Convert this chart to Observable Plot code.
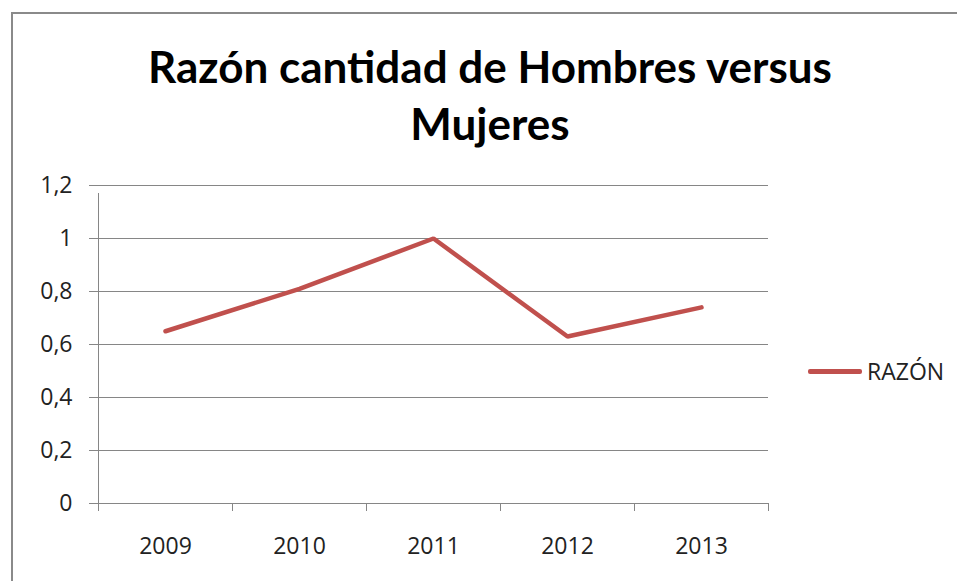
<!DOCTYPE html>
<html>
<head>
<meta charset="utf-8">
<script src="https://cdn.jsdelivr.net/npm/d3@7"></script>
<script src="https://cdn.jsdelivr.net/npm/@observablehq/plot@0.6"></script>
<style>
  html, body { margin: 0; padding: 0; background: #fff; }
  #wrap { position: relative; width: 957px; height: 581px; overflow: hidden; background: #fff; font-family: "Open Sans", Lato, sans-serif; }
  #frame { position: absolute; left: 11px; top: 12px; width: 1000px; height: 700px; border-left: 2px solid #8a8a8a; border-top: 2px solid #8a8a8a; }
  #title { position: absolute; left: 0; top: 38px; width: 980px; text-align: center; font-family: Lato, sans-serif; font-weight: bold; font-size: 44px; line-height: 57px; color: #000; }
  #chart { position: absolute; left: 0; top: 160px; }
  #legend { position: absolute; left: 808px; top: 355px; display: flex; align-items: center; font-size: 23px; color: #222; }
  #legend .sw { width: 54px; height: 5px; background: #C0504D; border-radius: 2px; margin-right: 5px; }
</style>
</head>
<body>
<div id="wrap">
  <div id="frame"></div>
  <div id="title">Razón cantidad de Hombres versus<br>Mujeres</div>
  <div id="chart"></div>
  <div id="legend"><div class="sw"></div><span>RAZÓN</span></div>
</div>
<script>
const years = ["2009", "2010", "2011", "2012", "2013"];
const razon = [0.65, 0.81, 1.0, 0.63, 0.74];
const yTicks = [0, 0.2, 0.4, 0.6, 0.8, 1, 1.2];
const seriesName = "RAZÓN";

const data = years.map((y, i) => ({i, year: y, value: razon[i]}));
const boundaries = d3.range(years.length + 1).map(k => k - 0.5);
const fmt = d => (+d.toFixed(1)).toString().replace(".", ",");

const plot = Plot.plot({
  width: 957,
  height: 421,
  marginTop: 25,
  marginBottom: 78,
  marginLeft: 98,
  marginRight: 189,
  style: {fontFamily: "'Open Sans', Lato, sans-serif", fontSize: "23px", color: "#222", background: "transparent", overflow: "visible"},
  x: {type: "linear", domain: [-0.5, years.length - 0.5], axis: null},
  y: {domain: [0, 1.2], axis: null},
  marks: [
    Plot.gridY(yTicks, {stroke: "#868686", strokeOpacity: 1, strokeWidth: 1}),
    Plot.axisY(yTicks, {label: null, tickFormat: fmt, tickSize: 9, stroke: "#868686", tickPadding: 17, fontSize: 23, fill: "#222"}),
    Plot.ruleX([-0.5], {stroke: "#868686", y1: 0, y2: 1.2, insetBottom: -8}),
    Plot.axisX(boundaries, {label: null, tickFormat: () => "", tickSize: 8, stroke: "#868686"}),
    Plot.axisX(d3.range(years.length), {label: null, tickFormat: i => years[i], tickSize: 0, tickPadding: 34, fontSize: 23, fill: "#222"}),
    Plot.ruleY([0], {stroke: "#868686"}),
    Plot.line(data, {x: "i", y: "value", stroke: "#C0504D", strokeWidth: 4.5, strokeLinecap: "round", strokeLinejoin: "miter"})
  ]
});
document.getElementById("chart").appendChild(plot);
</script>
</body>
</html>
